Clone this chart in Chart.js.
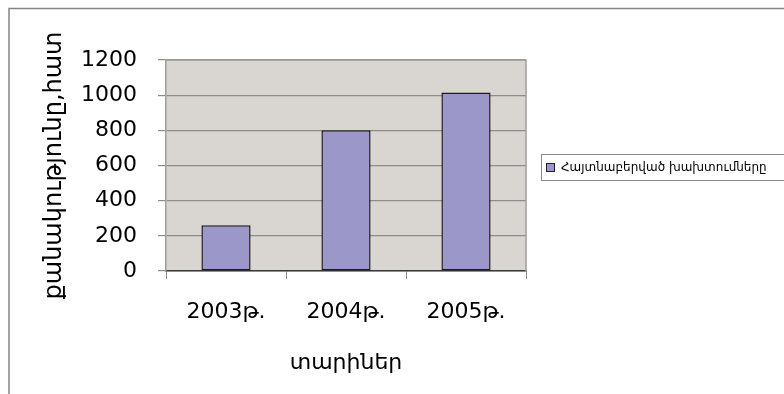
<!DOCTYPE html>
<html>
<head>
<meta charset="utf-8">
<script src="https://cdn.jsdelivr.net/npm/chart.js@4.4.1/dist/chart.umd.min.js"></script>
<style>
  html, body { margin: 0; padding: 0; background: #fff; }
  #wrap { width: 784px; height: 394px; position: relative; }
</style>
</head>
<body>
<div id="wrap"><canvas id="barChart" width="784" height="394"></canvas></div>
<script>
// data
const categories = ['2003թ.', '2004թ.', '2005թ.'];
const violations = [260, 800, 1015];
const seriesName = 'Հայտնաբերված խախտումները';
const xTitle = 'տարիներ';
const yTitle = 'քանակությունը,հատ';
const yMin = 0, yMax = 1200, yStep = 200;

const plotBg = '#d9d5d1';
const barFill = '#9c97c9';
const gridGrey = '#8f8b8b';

// grey plot area + outer frame + legend box
const decorPlugin = {
  id: 'decor',
  beforeDraw(chart) {
    const ctx = chart.ctx, a = chart.chartArea;
    ctx.save();
    ctx.fillStyle = '#fff';
    ctx.fillRect(0, 0, chart.width, chart.height);
    ctx.fillStyle = plotBg;
    ctx.fillRect(a.left, a.top, a.right - a.left, a.bottom - a.top);
    // outer frame
    ctx.strokeStyle = '#858585';
    ctx.lineWidth = 1.5;
    ctx.beginPath();
    ctx.moveTo(9, chart.height);
    ctx.lineTo(9, 8.5);
    ctx.lineTo(chart.width, 8.5);
    ctx.stroke();
    ctx.restore();
  },
  afterDraw(chart) {
    const ctx = chart.ctx, a = chart.chartArea;
    ctx.save();
    // plot border
    ctx.strokeStyle = '#a29d9d';
    ctx.lineWidth = 1.5;
    ctx.beginPath();
    ctx.moveTo(a.left, a.top);
    ctx.lineTo(a.right, a.top);
    ctx.lineTo(a.right, a.bottom);
    ctx.stroke();
    // legend
    const lx = 541.5, ly = 154.5, lw = 250, lh = 26;
    ctx.strokeStyle = '#8a8a8a';
    ctx.lineWidth = 1;
    ctx.strokeRect(lx, ly, lw, lh);
    const ds = chart.data.datasets[0];
    ctx.fillStyle = ds.backgroundColor;
    ctx.fillRect(546, 163, 9, 9);
    ctx.strokeStyle = '#222';
    ctx.strokeRect(546.5, 163.5, 8, 8);
    ctx.fillStyle = '#000';
    ctx.font = '12px "DejaVu Sans"';
    ctx.textBaseline = 'middle';
    ctx.fillText(ds.label, 561, 168);
    ctx.restore();
  }
};

const config = {
  type: 'bar',
  data: {
    labels: categories,
    datasets: [{
      label: seriesName,
      data: violations,
      backgroundColor: barFill,
      borderColor: '#1c1c1c',
      borderWidth: 1.5,
      borderSkipped: false,
      categoryPercentage: 1.0,
      barPercentage: 0.41
    }]
  },
  options: {
    responsive: false,
    animation: false,
    layout: { padding: { left: 40, top: 60, right: 258, bottom: 18 } },
    plugins: {
      legend: { display: false },
      tooltip: { enabled: false }
    },
    scales: {
      x: {
        afterFit(scale) { scale.height = 105; },
        grid: {
          drawOnChartArea: false,
          drawTicks: true,
          tickLength: 8,
          color: gridGrey
        },
        border: { color: '#3a3a3a', width: 1.5 },
        ticks: {
          color: '#000',
          padding: 20,
          font: { family: 'DejaVu Sans', size: 22 }
        },
        title: {
          display: true,
          text: xTitle,
          color: '#000',
          padding: { top: 0, bottom: 0 },
          font: { family: 'DejaVu Sans', size: 22 }
        }
      },
      y: {
        min: yMin,
        max: yMax,
        afterFit(scale) { scale.width = 126; },
        grid: {
          color: gridGrey,
          lineWidth: 1.2,
          tickLength: 8
        },
        border: { color: '#a29d9d', width: 1.5 },
        ticks: {
          stepSize: yStep,
          color: '#000',
          padding: 21,
          callback: (v) => String(v),
          font: { family: 'DejaVu Sans', size: 22 }
        },
        title: {
          display: true,
          text: yTitle,
          color: '#000',
          padding: { top: 0, bottom: 0 },
          font: { family: 'DejaVu Sans', size: 24 }
        }
      }
    }
  },
  plugins: [decorPlugin]
};

var ctx = document.getElementById('barChart').getContext('2d');
var myChart = new Chart(ctx, config);
</script>
</body>
</html>
